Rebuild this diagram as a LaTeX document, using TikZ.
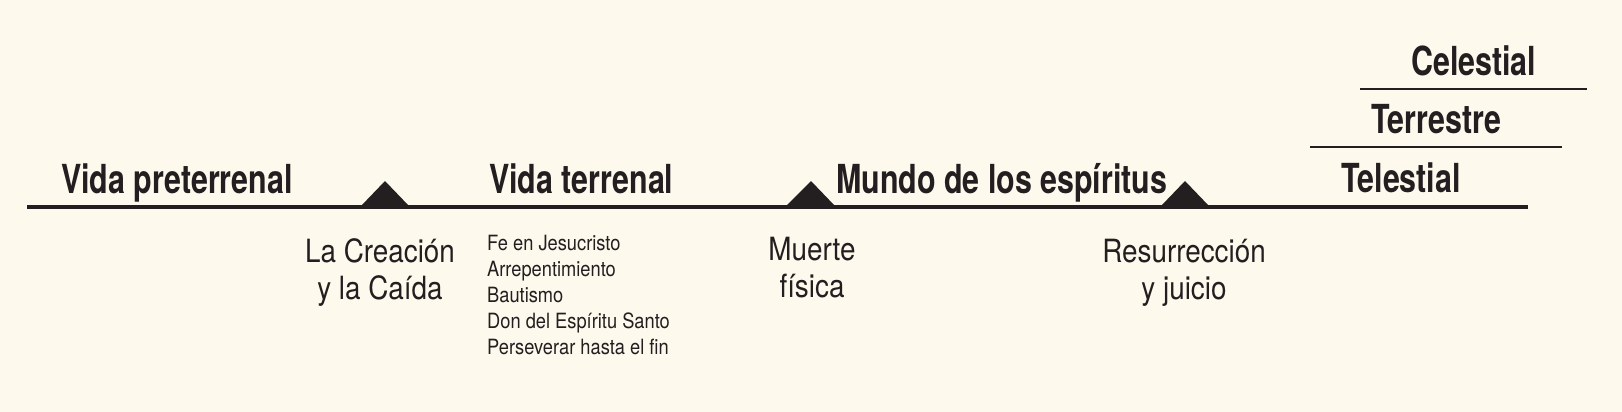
\documentclass[tikz,border=0pt]{standalone}
\usepackage{fontspec}
\newfontfamily\hbold[FakeStretch=0.76]{TeX Gyre Heros}
\newfontfamily\hreg[FakeStretch=0.87]{TeX Gyre Heros}
\definecolor{bg}{HTML}{FEF9ED}
\definecolor{ink}{HTML}{231F20}
\tikzset{
  head/.style={font=\hbold\bfseries\fontsize{40}{40}\selectfont, text=ink, inner sep=0pt, anchor=base west},
  evt/.style={font=\hreg\fontsize{32}{37}\selectfont, text=ink, inner sep=0pt, anchor=base},
  item/.style={font=\hreg\fontsize{21}{26}\selectfont, text=ink, inner sep=0pt, anchor=base west},
  mainline/.style={draw=ink, line width=4.5pt},
  levelline/.style={draw=ink, line width=2.4pt},
  marker/.style={fill=ink, draw=none}
}
\begin{document}
\begin{tikzpicture}[x=1pt,y=-1pt]
\fill[bg] (0,0) rectangle (1622,412);
\useasboundingbox (0,0) rectangle (1622,412);
% lines
\coordinate (mL) at (27,207);
\coordinate (mR) at (1528,207);
\coordinate (tL) at (1310,147);
\coordinate (tR) at (1562,147);
\coordinate (cL) at (1360,89);
\coordinate (cR) at (1587,89);
\draw[mainline] (mL) -- (mR);
\draw[levelline] (tL) -- (tR);
\draw[levelline] (cL) -- (cR);
% markers
\fill[marker] (361,206) -- (385,181) -- (409,206) -- cycle;
\fill[marker] (786,206) -- (811,181) -- (835,206) -- cycle;
\fill[marker] (1161,206) -- (1185,181) -- (1209,206) -- cycle;
% headings
\node[head] (pre) at (61,193) {Vida preterrenal};
\node[head] (ter) at (489,193) {Vida terrenal};
\node[head] (mun) at (836,193) {Mundo de los espíritus};
\node[head] (tel) at (1341,192) {Telestial};
\node[head] (trr) at (1371,133) {Terrestre};
\node[head] (cel) at (1411,75) {Celestial};
% events
\node[evt] (cre1) at (380,262) {La Creación};
\node[evt] (cre2) at (380,299) {y la Caída};
\node[evt] (mue1) at (812,260) {Muerte};
\node[evt] (mue2) at (812,297) {física};
\node[evt] (res1) at (1184,262) {Resurrección};
\node[evt] (res2) at (1184,299) {y juicio};
% list
\node[item] (l1) at (487,250) {Fe en Jesucristo};
\node[item] (l2) at (487,276) {Arrepentimiento};
\node[item] (l3) at (487,302) {Bautismo};
\node[item] (l4) at (487,328) {Don del Espíritu Santo};
\node[item] (l5) at (487,354) {Perseverar hasta el fin};
\end{tikzpicture}
\end{document}
